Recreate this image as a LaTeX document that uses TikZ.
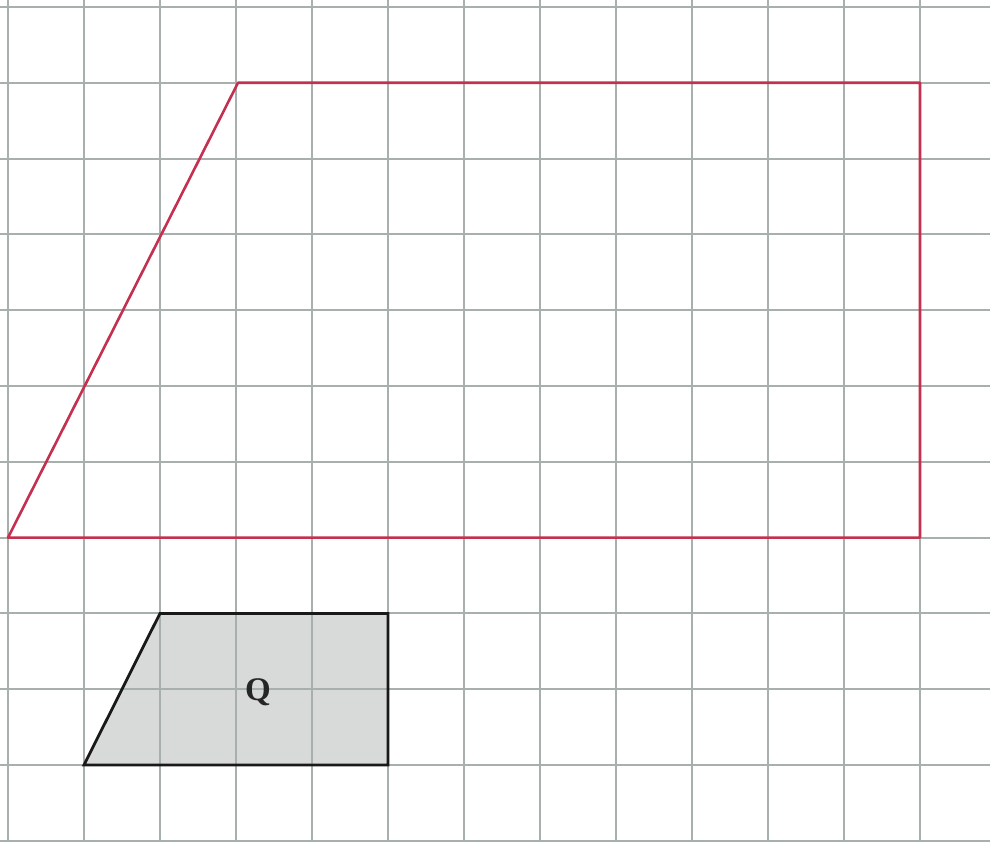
\documentclass[tikz,border=0pt]{standalone}
\usepackage{fontspec}
\setmainfont{Liberation Serif}
\begin{document}
\begin{tikzpicture}[x=1pt,y=-1pt,
  gridline/.style={draw=gridgray,line width=2pt},
  redshape/.style={draw=redline,line width=2.6pt,line join=round},
  qshape/.style={draw=black!90,fill=fillgray,line width=2.8pt,line join=miter},
  qlabel/.style={font=\bfseries\fontsize{33}{33}\selectfont,text=black!85,inner sep=0pt}]
\definecolor{gridgray}{RGB}{168,176,174}
\definecolor{redline}{RGB}{196,48,80}
\definecolor{fillgray}{RGB}{216,218,218}
\useasboundingbox (0,0) rectangle (990,842);
\fill[white] (0,0) rectangle (990,842);
% Q fill first
\coordinate (q1) at (84,765);
\coordinate (q2) at (160,613.4);
\coordinate (q3) at (388,613.4);
\coordinate (q4) at (388,765);
\fill[fillgray] (q1) -- (q2) -- (q3) -- (q4) -- cycle;
% grid
\foreach \k in {0,...,12} {
  \draw[gridline] (8+76*\k,0) -- (8+76*\k,842);
}
\foreach \k in {0,...,11} {
  \draw[gridline] (0,7+75.8*\k) -- (990,7+75.8*\k);
}
% red shape
\coordinate (r1) at (8,537.6);
\coordinate (r2) at (238,82.8);
\coordinate (r3) at (920,82.8);
\coordinate (r4) at (920,537.6);
\draw[redshape] (r1) -- (r2) -- (r3) -- (r4) -- cycle;
% Q outline
\draw[qshape,fill=none] (q1) -- (q2) -- (q3) -- (q4) -- cycle;
\node[qlabel] (qlab) at (258,692) {Q};
\end{tikzpicture}
\end{document}
